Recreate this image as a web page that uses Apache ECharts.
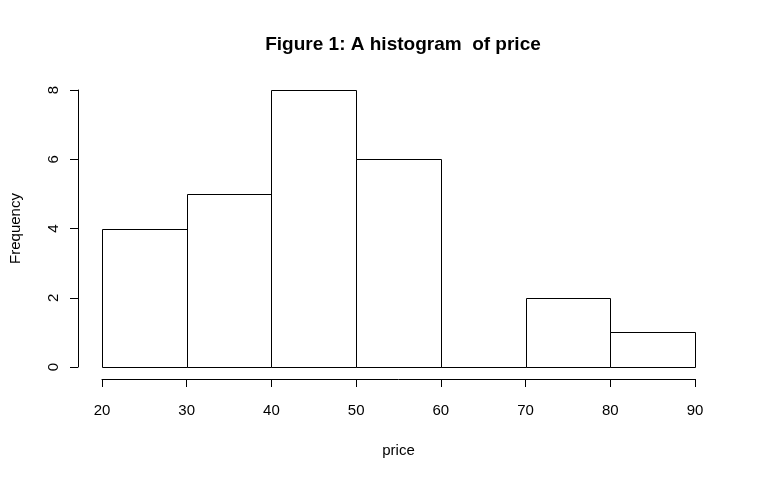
<!DOCTYPE html>
<html>
<head>
<meta charset="utf-8">
<script src="https://cdn.jsdelivr.net/npm/echarts@6/dist/echarts.min.js"></script>
<style>html,body{margin:0;padding:0;background:#fff;}#c{width:760px;height:477px;}</style>
</head>
<body>
<div id="c"></div>
<script>
const binStarts = [20, 30, 40, 50, 60, 70, 80];
const binWidth = 10;
const counts = [4, 5, 8, 6, 0, 2, 1];
const xTicks = [20, 30, 40, 50, 60, 70, 80, 90];
const yTicks = [0, 2, 4, 6, 8];

const FONT = '"Liberation Sans", Arial, sans-serif';
const data = binStarts.map((s, i) => [s, s + binWidth, counts[i]]);

const chart = echarts.init(document.getElementById('c'), null, {renderer: 'canvas'});
chart.setOption({
  animation: false,
  backgroundColor: '#ffffff',
  title: {
    text: 'Figure 1: A histogram  of price',
    left: 398, top: 30, textAlign: 'center',
    textStyle: {fontFamily: FONT, fontWeight: 'bold', fontSize: 19, color: '#000'}
  },
  grid: {left: 102, right: 65, top: 90, bottom: 110, containLabel: false},
  xAxis: {
    type: 'value', min: 20, max: 90, interval: 10, offset: 12,
    name: 'price', nameLocation: 'middle', nameGap: 64,
    nameTextStyle: {fontFamily: FONT, fontSize: 15, color: '#000'},
    axisLine: {show: true, onZero: false, lineStyle: {color: '#000', width: 1}},
    axisTick: {show: true, length: 8, lineStyle: {color: '#000'}},
    axisLabel: {fontFamily: FONT, fontSize: 15, color: '#000', margin: 24,
      formatter: v => xTicks.includes(v) ? String(v) : ''},
    splitLine: {show: false}
  },
  yAxis: {
    type: 'value', min: 0, max: 8, interval: 2, offset: 24,
    name: 'Frequency', nameLocation: 'middle', nameGap: 55, nameRotate: 90,
    nameTextStyle: {fontFamily: FONT, fontSize: 15, color: '#000'},
    axisLine: {show: true, lineStyle: {color: '#000', width: 1}},
    axisTick: {show: true, length: 8, lineStyle: {color: '#000'}},
    axisLabel: {fontFamily: FONT, fontSize: 15, color: '#000', margin: 17, rotate: 90,
      formatter: v => yTicks.includes(v) ? String(v) : ''},
    splitLine: {show: false}
  },
  series: [{
    type: 'custom',
    data: data,
    encode: {x: [0, 1], y: 2},
    renderItem: function (params, api) {
      const p0 = api.coord([api.value(0), 0]);
      const p1 = api.coord([api.value(1), api.value(2)]);
      return {
        type: 'rect',
        shape: {x: Math.round(p0[0]) + 0.5, y: Math.round(p1[1]) + 0.5,
                width: Math.round(p1[0]) - Math.round(p0[0]),
                height: Math.round(p0[1]) - Math.round(p1[1])},
        style: {fill: '#fff', stroke: '#000', lineWidth: 1}
      };
    }
  }]
});
</script>
</body>
</html>
